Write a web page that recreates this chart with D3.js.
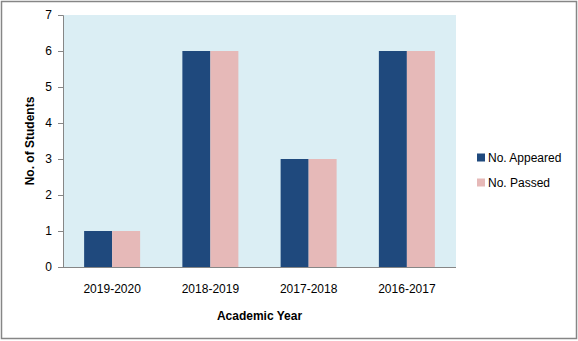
<!DOCTYPE html>
<html>
<head>
<meta charset="utf-8">
<script src="https://cdn.jsdelivr.net/npm/d3@7"></script>
<style>
  html, body { margin: 0; padding: 0; background: #fff; }
  svg { display: block; font-family: "Liberation Sans", Arial, sans-serif; }
</style>
</head>
<body>
<div id="chart"></div>
<script>
// Student counts per academic year
const categories = ["2019-2020", "2018-2019", "2017-2018", "2016-2017"];
const seriesNames = ["No. Appeared", "No. Passed"];
const appeared = [1, 6, 3, 6];
const passed = [1, 6, 3, 6];
const yTicks = [0, 1, 2, 3, 4, 5, 6, 7];
const colors = ["#1F497D", "#E6B9B8"];

const W = 578, H = 341;
const plot = { left: 63, top: 15, right: 456, bottom: 267 };

const svg = d3.select("#chart").append("svg")
  .attr("width", W).attr("height", H);

// outer frame
svg.append("rect")
  .attr("x", 1.5).attr("y", 1.5)
  .attr("width", W - 3).attr("height", H - 4)
  .attr("fill", "#fff").attr("stroke", "#868686").attr("stroke-width", 1.5);

// plot background
svg.append("rect")
  .attr("x", plot.left).attr("y", plot.top)
  .attr("width", plot.right - plot.left).attr("height", plot.bottom - plot.top)
  .attr("fill", "#DBEEF4");

const x0 = d3.scaleBand().domain(categories)
  .range([plot.left, plot.right]).paddingInner(0.43).paddingOuter(0.215);
const x1 = d3.scaleBand().domain(seriesNames).range([0, x0.bandwidth()]);
const y = d3.scaleLinear().domain([0, 7]).range([plot.bottom, plot.top]);

const rows = categories.map((c, i) => ({ cat: c, vals: [appeared[i], passed[i]] }));

const groups = svg.append("g").selectAll("g").data(rows).join("g")
  .attr("transform", d => `translate(${x0(d.cat)},0)`);

groups.selectAll("rect")
  .data(d => d.vals.map((v, j) => ({ name: seriesNames[j], v, j })))
  .join("rect")
  .attr("x", d => x1(d.name))
  .attr("y", d => y(d.v))
  .attr("width", x1.bandwidth())
  .attr("height", d => y(0) - y(d.v))
  .attr("fill", d => colors[d.j]);

// y axis
const yAxis = svg.append("g")
  .attr("transform", `translate(${plot.left},0)`)
  .call(d3.axisLeft(y).tickValues(yTicks).tickSize(5).tickPadding(6).tickFormat(d3.format("d")));
yAxis.selectAll("path, line").attr("stroke", "#868686");
yAxis.selectAll("text").attr("font-size", 12).attr("fill", "#000")
  .attr("font-family", "Liberation Sans, Arial, sans-serif");

// x axis
const xAxis = svg.append("g")
  .attr("transform", `translate(0,${plot.bottom})`)
  .call(d3.axisBottom(x0.copy().paddingInner(0).paddingOuter(0)).tickSize(0).tickPadding(17));
xAxis.select(".domain").attr("stroke", "#868686").attr("d", `M${plot.left},0.5H${plot.right}`);
xAxis.selectAll("text").attr("font-size", 12).attr("fill", "#000")
  .attr("font-family", "Liberation Sans, Arial, sans-serif");

// axis titles
svg.append("text")
  .attr("x", (plot.left + plot.right) / 2).attr("y", 320)
  .attr("text-anchor", "middle").attr("font-size", 12).attr("font-weight", "bold")
  .text("Academic Year");

svg.append("text")
  .attr("transform", `translate(34,${(plot.top + plot.bottom) / 2}) rotate(-90)`)
  .attr("text-anchor", "middle").attr("font-size", 12).attr("font-weight", "bold")
  .text("No. of Students");

// legend
const legend = svg.append("g").attr("transform", "translate(477,153)");
seriesNames.forEach((n, i) => {
  const g = legend.append("g").attr("transform", `translate(0,${i * 25})`);
  g.append("rect").attr("width", 8).attr("height", 8).attr("y", 0.5).attr("fill", colors[i]);
  g.append("text").attr("x", 11).attr("y", 9).attr("font-size", 12).text(n);
});
</script>
</body>
</html>
